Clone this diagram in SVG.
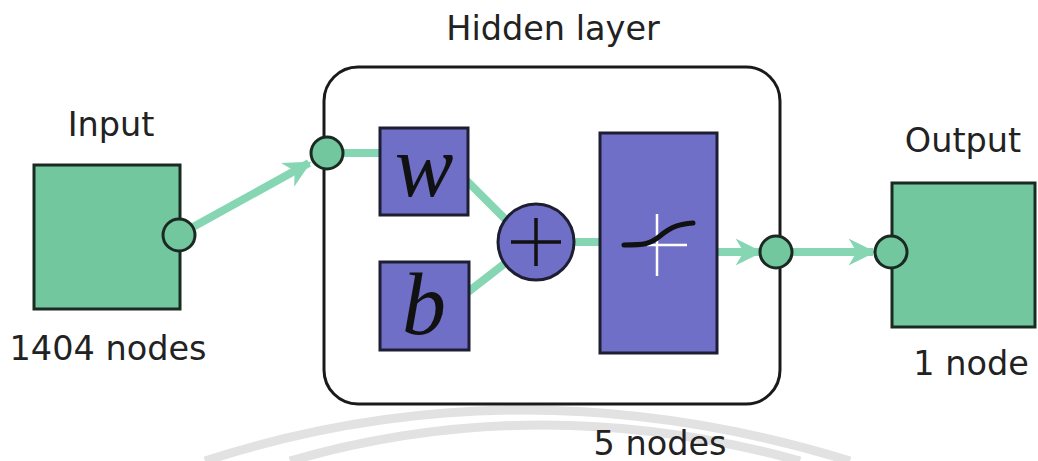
<svg xmlns="http://www.w3.org/2000/svg" width="1038" height="461" viewBox="0 0 1038 461">
<style>
.lbl{font-family:"DejaVu Sans","Liberation Sans",sans-serif;font-size:33.5px;fill:#222}
.grn{fill:#72c79f;stroke:#1a2a22;stroke-width:3}
.blu{fill:#6f6fc8;stroke:#1e1e33;stroke-width:3}
.wire{stroke:#86d6b4;stroke-width:8;fill:none}
.math{font-family:"Liberation Serif",serif;font-style:italic;font-size:88px;fill:#111}
</style>
<defs>
<marker id="ah" viewBox="0 0 10 10" refX="9" refY="5" markerWidth="3.4" markerHeight="3.4" orient="auto" markerUnits="strokeWidth">
<path d="M0,0 L10,5 L0,10 L3,5 Z" fill="#86d6b4"/>
</marker>
</defs>
<rect width="1038" height="461" fill="#fff"/>
<g id="watermark" fill="none" stroke="#e2e2e2" stroke-width="9">
<path d="M205,461 Q520,359 850,461"/>
<path d="M290,461 Q540,389 800,461"/>
</g>
<g id="connectors">
<line class="wire" x1="193" y1="227" x2="309" y2="163" marker-end="url(#ah)"/>
<line class="wire" x1="340" y1="153" x2="382" y2="153"/>
<line class="wire" x1="466" y1="180" x2="512" y2="226"/>
<line class="wire" x1="468" y1="292" x2="512" y2="258"/>
<line class="wire" x1="572" y1="242" x2="602" y2="242"/>
<line class="wire" x1="717" y1="252" x2="760" y2="252" marker-end="url(#ah)"/>
<line class="wire" x1="790" y1="252" x2="873" y2="252" marker-end="url(#ah)"/>
</g>
<g id="input">
<rect class="grn" x="34" y="165" width="146" height="144"/>
<circle class="grn" cx="179" cy="235" r="16"/>
<text class="lbl" x="111" y="136" text-anchor="middle">Input</text>
<text class="lbl" x="108" y="360" text-anchor="middle">1404 nodes</text>
</g>
<g id="hidden">
<rect x="324" y="67" width="456" height="337" rx="34" fill="none" stroke="#1a1a1a" stroke-width="3"/>
<circle class="grn" cx="327" cy="153" r="16"/>
<circle class="grn" cx="776" cy="252" r="16"/>
<text class="lbl" x="553" y="40" text-anchor="middle">Hidden layer</text>
<text class="lbl" x="660" y="455" text-anchor="middle">5 nodes</text>
</g>
<g id="w">
<rect class="blu" x="380" y="128" width="88" height="87"/>
<text class="math" x="424" y="196" text-anchor="middle">w</text>
</g>
<g id="b">
<rect class="blu" x="380" y="262" width="89" height="88"/>
<text class="math" x="424" y="334" text-anchor="middle">b</text>
</g>
<g id="sum">
<circle class="blu" cx="536" cy="242" r="38"/>
<path d="M536,218 V266 M511,242 H561" stroke="#111" stroke-width="3.5"/>
</g>
<g id="activation">
<rect class="blu" x="600" y="133" width="117" height="220"/>
<path d="M657,214 V276 M647,245 H687" stroke="#fff" stroke-width="2.5"/>
<path d="M624,245 C645,245 650,244 660,236 C672,226 680,224 693,223" stroke="#111" stroke-width="5" fill="none" stroke-linecap="round"/>
</g>
<g id="output">
<rect class="grn" x="892" y="183" width="143" height="144"/>
<circle class="grn" cx="891" cy="252" r="16"/>
<text class="lbl" x="963" y="152" text-anchor="middle">Output</text>
<text class="lbl" x="971" y="375" text-anchor="middle">1 node</text>
</g>
</svg>
